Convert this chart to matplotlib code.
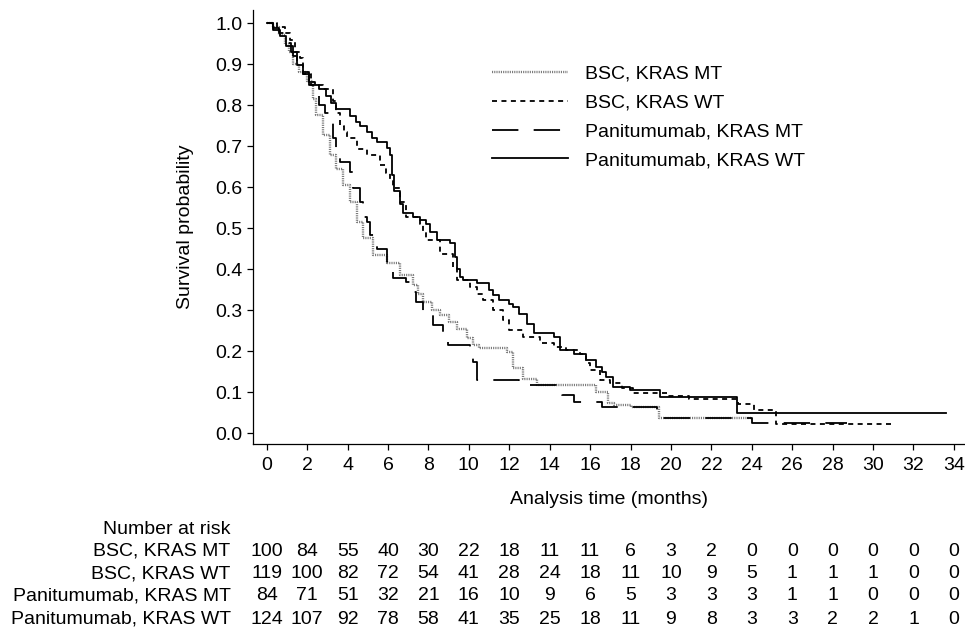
import matplotlib
matplotlib.use("Agg")
import matplotlib.pyplot as plt
from matplotlib.transforms import blended_transform_factory

plt.rcParams["font.family"] = ["Liberation Sans", "DejaVu Sans"]
plt.rcParams["lines.scale_dashes"] = False

# Kaplan-Meier step points (time in months, survival after the step)
bsc_mt_t = [0, 0.3, 0.6, 0.9, 1.1, 1.3, 1.6, 2.0, 2.3, 2.46, 2.79, 3.12, 3.45, 3.78,
            4.1, 4.44, 4.77, 5.26, 5.93, 6.58, 7.24, 7.5, 7.74, 8.2, 8.56, 9.0, 9.39,
            9.89, 10.2, 10.5, 11.9, 12.2, 12.7, 13.35, 16.3, 16.9, 17.2, 18.0, 19.4, 24.0]
bsc_mt_s = [1.0, 0.99, 0.97, 0.95, 0.93, 0.90, 0.88, 0.86, 0.816, 0.776, 0.727, 0.678,
            0.645, 0.605, 0.564, 0.515, 0.475, 0.434, 0.414, 0.385, 0.361, 0.34, 0.32,
            0.30, 0.288, 0.27, 0.255, 0.231, 0.215, 0.207, 0.198, 0.158, 0.133, 0.117,
            0.10, 0.073, 0.068, 0.063, 0.036, 0.036]

bsc_wt_t = [0, 0.5, 0.9, 1.14, 1.4, 1.63, 1.8, 2.2, 2.8, 3.3, 3.45, 3.6, 3.8, 3.95,
            4.44, 4.94, 5.6, 5.9, 6.1, 6.25, 6.58, 6.9, 7.57, 7.75, 7.9, 8.56, 9.2, 9.4,
            10.05, 10.4, 10.7, 11.2, 11.7, 12.0, 12.7, 13.5, 14.2, 14.8, 15.5, 15.8,
            16.0, 16.5, 17.0, 17.6, 18.1, 19.8, 20.9, 23.3, 24.1, 25.2, 31.0]
bsc_wt_s = [1.0, 0.99, 0.975, 0.96, 0.93, 0.914, 0.876, 0.85, 0.84, 0.81, 0.78, 0.75,
            0.735, 0.719, 0.694, 0.678, 0.654, 0.635, 0.62, 0.597, 0.564, 0.528, 0.511,
            0.49, 0.47, 0.438, 0.405, 0.373, 0.357, 0.34, 0.324, 0.30, 0.276, 0.251,
            0.235, 0.219, 0.21, 0.202, 0.194, 0.17, 0.154, 0.129, 0.121, 0.109, 0.097,
            0.09, 0.083, 0.072, 0.056, 0.022, 0.022]

pan_mt_t = [0, 0.3, 0.6, 0.9, 1.2, 1.5, 1.8, 2.1, 2.4, 2.6, 2.9, 3.1, 3.3, 3.45, 3.6,
            4.1, 4.27, 4.6, 4.75, 4.94, 5.1, 5.43, 5.93, 6.25, 6.9, 7.24, 7.4, 7.74,
            8.23, 8.73, 8.98, 10.05, 10.2, 10.38, 12.5, 14.3, 14.6, 15.2, 16.6, 19.3,
            24.0, 28.7]
pan_mt_s = [1.0, 0.988, 0.976, 0.952, 0.93, 0.905, 0.88, 0.857, 0.84, 0.80, 0.78,
            0.756, 0.72, 0.69, 0.662, 0.637, 0.597, 0.564, 0.527, 0.515, 0.483, 0.45,
            0.418, 0.378, 0.369, 0.345, 0.32, 0.288, 0.263, 0.247, 0.215, 0.207, 0.174,
            0.129, 0.117, 0.105, 0.093, 0.076, 0.064, 0.036, 0.025, 0.025]

pan_wt_t = [0, 0.3, 0.64, 0.97, 1.3, 1.5, 1.8, 2.1, 2.6, 2.95, 3.2, 3.45, 4.1, 4.4,
            4.6, 4.94, 5.2, 5.45, 5.95, 6.1, 6.2, 6.3, 6.6, 6.75, 7.24, 7.6, 7.9, 8.1,
            8.4, 9.06, 9.3, 9.4, 9.55, 9.7, 10.4, 11.0, 11.2, 11.5, 12.0, 12.2, 12.5,
            12.86, 13.2, 14.2, 14.5, 15.2, 15.8, 16.3, 16.6, 16.8, 17.15, 17.97, 19.46,
            23.25, 33.6]
pan_wt_s = [1.0, 0.984, 0.968, 0.944, 0.92, 0.898, 0.875, 0.85, 0.84, 0.822, 0.806,
            0.79, 0.774, 0.758, 0.75, 0.735, 0.72, 0.71, 0.695, 0.678, 0.63, 0.59, 0.56,
            0.536, 0.528, 0.52, 0.511, 0.49, 0.47, 0.463, 0.43, 0.40, 0.38, 0.373,
            0.365, 0.349, 0.336, 0.324, 0.316, 0.308, 0.29, 0.267, 0.243, 0.235, 0.202,
            0.194, 0.178, 0.162, 0.15, 0.137, 0.113, 0.105, 0.088, 0.05, 0.05]

group_labels = ["BSC, KRAS MT", "BSC, KRAS WT", "Panitumumab, KRAS MT", "Panitumumab, KRAS WT"]

risk_times = list(range(0, 35, 2))
risk_bsc_mt = [100, 84, 55, 40, 30, 22, 18, 11, 11, 6, 3, 2, 0, 0, 0, 0, 0, 0]
risk_bsc_wt = [119, 100, 82, 72, 54, 41, 28, 24, 18, 11, 10, 9, 5, 1, 1, 1, 0, 0]
risk_pan_mt = [84, 71, 51, 32, 21, 16, 10, 9, 6, 5, 3, 3, 3, 1, 1, 0, 0, 0]
risk_pan_wt = [124, 107, 92, 78, 58, 41, 35, 25, 18, 11, 9, 8, 3, 3, 2, 2, 1, 0]

FS = 14

fig = plt.figure(figsize=(9.65, 6.3), dpi=100)
ax = fig.add_axes([0.262, 0.295, 0.738, 0.689])

ax.step(bsc_mt_t, bsc_mt_s, where="post", color="#7a7a7a", lw=1.7,
        dashes=(0.8, 0.8), label=group_labels[0])
ax.step(bsc_wt_t, bsc_wt_s, where="post", color="black", lw=1.3,
        dashes=(3.6, 3.2), label=group_labels[1])
ax.step(pan_mt_t, pan_mt_s, where="post", color="black", lw=1.3,
        dashes=(19, 11), label=group_labels[2])
ax.step(pan_wt_t, pan_wt_s, where="post", color="black", lw=1.3,
        label=group_labels[3])

ax.set_xlim(-0.69, 34.55)
ax.set_ylim(-0.027, 1.032)
ax.set_xticks(risk_times)
ax.set_yticks([i / 10 for i in range(11)])
ax.set_yticklabels(["%.1f" % (i / 10) for i in range(11)])
for side in ["top", "right"]:
    ax.spines[side].set_visible(False)
for side in ["left", "bottom"]:
    ax.spines[side].set_linewidth(0.9)
ax.tick_params(axis="both", labelsize=FS, length=4.5, width=0.9, colors="black")
ax.tick_params(axis="x", pad=5)
ax.tick_params(axis="y", pad=3)

ax.set_xlabel("Analysis time (months)", fontsize=FS)
ax.set_ylabel("Survival probability", fontsize=FS)
ax.xaxis.set_label_coords(0.5, -0.108)
ax.yaxis.set_label_coords(-0.082, 0.5)

ax.legend(loc="upper left", bbox_to_anchor=(492 / 965, 1 - 65 / 630),
          bbox_transform=fig.transFigure, frameon=False, fontsize=FS,
          handlelength=3.9, handletextpad=0.9, labelspacing=0.58,
          borderpad=0, borderaxespad=0)

# Number-at-risk table
trans = blended_transform_factory(ax.transData, fig.transFigure)
fig.text(0.239, 1 - 529 / 630, "Number at risk", ha="right", va="center", fontsize=FS)
rows = [risk_bsc_mt, risk_bsc_wt, risk_pan_mt, risk_pan_wt]
row_y = [1 - 551 / 630, 1 - 574 / 630, 1 - 596 / 630, 1 - 619 / 630]
for label, counts, y in zip(group_labels, rows, row_y):
    fig.text(0.239, y, label, ha="right", va="center", fontsize=FS)
    for t, n in zip(risk_times, counts):
        ax.text(t, y, str(n), transform=trans, ha="center", va="center",
                fontsize=FS, clip_on=False)

fig.savefig("out.png", dpi=100)
